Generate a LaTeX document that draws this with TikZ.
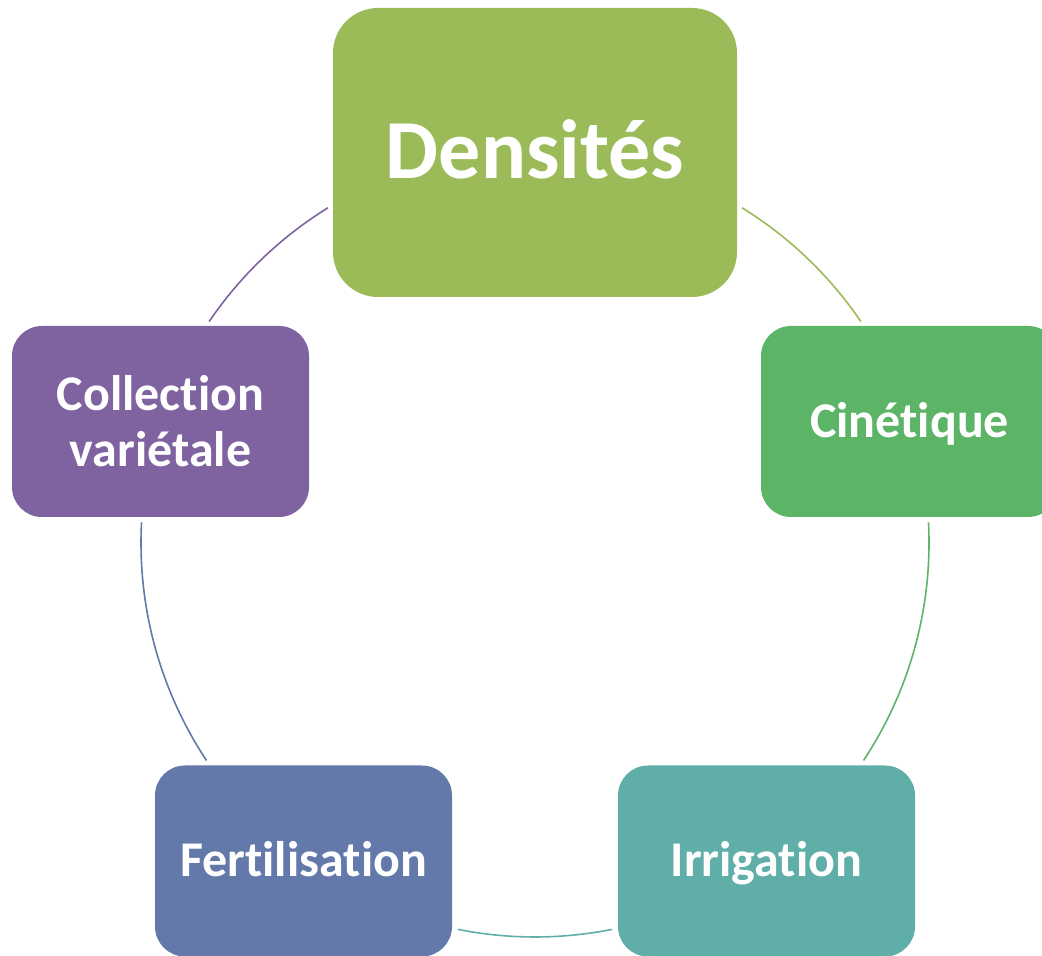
\documentclass[tikz,border=0pt]{standalone}
\usepackage{fontspec}
\setmainfont{Carlito}[Ligatures={NoCommon,TeX}]
\usetikzlibrary{calc}
\definecolor{cDens}{HTML}{9BBB59}
\definecolor{cCin}{HTML}{5CB566}
\definecolor{cIrr}{HTML}{5FAEA7}
\definecolor{cFer}{HTML}{6279A9}
\definecolor{cCol}{HTML}{7F63A1}
\tikzset{
  box/.style={rounded corners=30pt, minimum width=297pt, minimum height=191pt, inner sep=0pt, text=white, font=\fontsize{50}{56}\selectfont\bfseries, align=center},
  onel/.style={text height=32pt, text depth=0pt},
  big/.style={rounded corners=45pt, minimum width=404pt, minimum height=289pt, inner sep=0pt, text=white, font=\fontsize{84}{90}\selectfont\bfseries, text height=53pt, text depth=0pt},
  ring/.style={line width=1.6pt}
}
\begin{document}
\begin{tikzpicture}[x=1pt,y=1pt]
\useasboundingbox (0,0) rectangle (1042,956);
\clip (0,0) rectangle (1042,956);
\coordinate (O) at (535,413);
\node[big, fill=cDens] (dens) at (535,803.5) {Densités};
\node[box, onel, fill=cCin] (cin) at (909.5,534.5) {Cinétique};
\node[box, onel, fill=cIrr] (irr) at (766.5,95) {Irrigation};
\node[box, onel, fill=cFer] (fer) at (303.5,95) {Fertilisation};
\node[box, fill=cCol] (col) at (160.5,534.5) {Collection\\variétale};
\draw[ring, cDens] ($(O)+(58.3:394)$) arc[start angle=58.3, end angle=34.2, radius=394];
\draw[ring, cCin] ($(O)+(3:394)$) arc[start angle=3, end angle=-33.5, radius=394];
\draw[ring, cIrr] ($(O)+(-78.7:394)$) arc[start angle=-78.7, end angle=-101.3, radius=394];
\draw[ring, cFer] ($(O)+(-146.5:394)$) arc[start angle=-146.5, end angle=-183, radius=394];
\draw[ring, cCol] ($(O)+(145.8:394)$) arc[start angle=145.8, end angle=121.7, radius=394];
\end{tikzpicture}
\end{document}
